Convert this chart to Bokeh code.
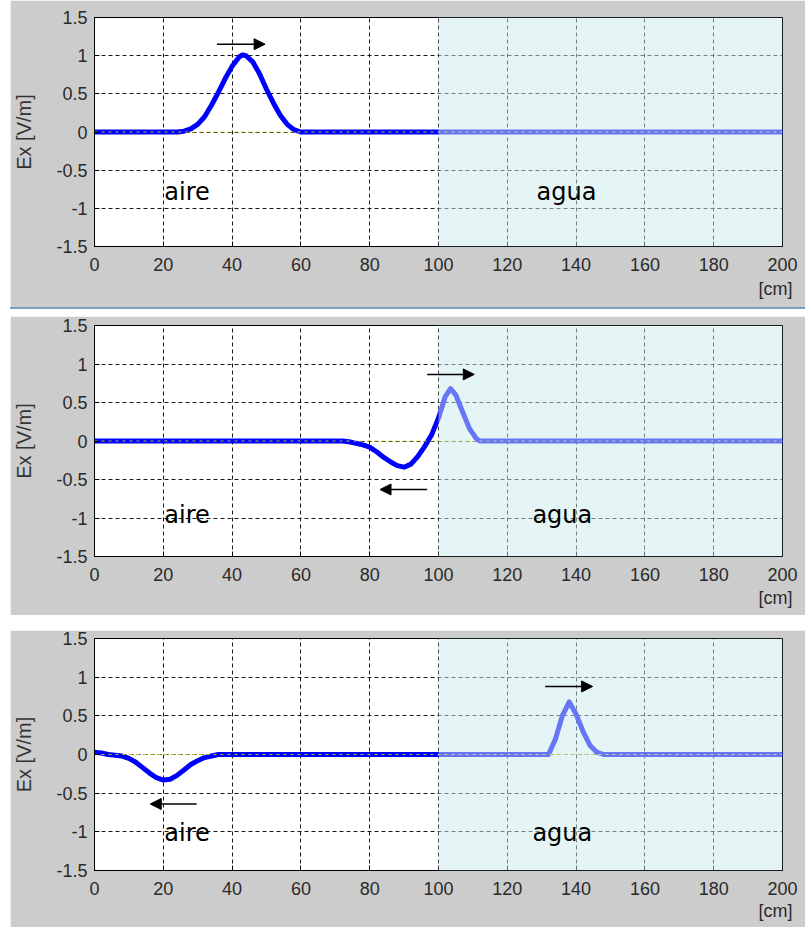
from bokeh.plotting import figure
from bokeh.models import (Range1d, FixedTicker, CustomJSTickFormatter, BoxAnnotation,
                          Arrow, NormalHead, Label, Title, Div, Spacer, ColumnDataSource)
from bokeh.layouts import column, row
from bokeh.embed import file_html
from bokeh.resources import INLINE

# ---------------- data ----------------
x_ticks = [0, 20, 40, 60, 80, 100, 120, 140, 160, 180, 200]
y_ticks = [-1.5, -1.0, -0.5, 0.0, 0.5, 1.0, 1.5]
x_label = "[cm]"
y_label = "Ex [V/m]"
media_names = ["aire", "agua"]
interface_x = 100

# panel 1: pulse travelling in air towards the interface
p1_x = [0, 24, 26, 28, 30, 32, 34, 36, 38, 40, 42, 43, 44, 46, 48, 50, 52, 54, 56, 58, 60, 100, 200]
p1_ex = [0, 0, 0.01, 0.04, 0.1, 0.2, 0.35, 0.52, 0.7, 0.86, 0.98, 1.01, 1.0, 0.92, 0.76, 0.56,
         0.38, 0.22, 0.1, 0.03, 0, 0, 0]

# panel 2: reflected (negative) and transmitted (positive) pulses at the interface
p2_x = [0, 72, 74, 76, 78, 80, 82, 84, 86, 88, 90, 92, 94, 96, 98, 100, 102, 103.5, 105, 107,
        109, 111, 112, 200]
p2_ex = [0, 0, -0.01, -0.03, -0.05, -0.08, -0.14, -0.21, -0.27, -0.32, -0.34, -0.3, -0.2,
         -0.07, 0.08, 0.3, 0.58, 0.68, 0.6, 0.38, 0.16, 0.03, 0, 0]

# panel 3: pulses separated
p3_x = [0, 2, 4, 6, 8, 10, 12, 14, 16, 18, 20, 22, 24, 26, 28, 30, 32, 34, 36, 132, 134, 136,
        138, 140, 142, 144, 146, 148, 200]
p3_ex = [0.03, 0.02, 0.0, -0.01, -0.02, -0.05, -0.1, -0.17, -0.24, -0.3, -0.33, -0.32, -0.27,
         -0.2, -0.13, -0.08, -0.04, -0.02, 0.0, 0, 0.2, 0.5, 0.68, 0.52, 0.3, 0.12, 0.03, 0, 0]

zero_x = [0, 200]
zero_y = [0, 0]

# arrows: (x_start, x_end, y)
p1_arrows = [(35.6, 49.6, 1.15)]
p2_arrows = [(96.7, 110.4, 0.865), (96.7, 83.0, -0.63)]
p3_arrows = [(131.0, 144.8, 0.88), (29.7, 16.2, -0.64)]

# media label positions: (x_aire, x_agua, y)
p1_media = (20.3, 128.5, -0.79)
p2_media = (20.3, 127.3, -0.96)
p3_media = (20.3, 127.3, -1.02)

GRAY = "#cccccc"
TICK_FONT = "Liberation Sans"
FIG_W = 795


def make_panel(xs, ys, arrows, media, height, top, bottom, left, right, cm_standoff):
    p = figure(width=FIG_W, height=height, output_backend="svg", toolbar_location=None,
               x_range=Range1d(0, 200), y_range=Range1d(-1.5, 1.5),
               min_border_top=top, min_border_bottom=bottom,
               min_border_left=left, min_border_right=right)
    p.border_fill_color = GRAY
    p.background_fill_color = "white"
    p.outline_line_color = "black"
    p.outline_line_width = 1

    p.xaxis.ticker = FixedTicker(ticks=x_ticks)
    p.yaxis.ticker = FixedTicker(ticks=y_ticks)
    p.xaxis.formatter = CustomJSTickFormatter(code="return tick.toString();")
    p.yaxis.formatter = CustomJSTickFormatter(code="return tick.toString();")
    for ax in (p.xaxis, p.yaxis):
        ax.axis_line_color = "black"
        ax.major_tick_line_color = "black"
        ax.major_tick_in = 5
        ax.major_tick_out = 0
        ax.minor_tick_line_color = None
        ax.major_label_text_font = TICK_FONT
        ax.major_label_text_font_size = "18px"
        ax.major_label_text_color = "#2a2a2a"
    p.xaxis.major_label_standoff = 11
    p.yaxis.major_label_standoff = 7
    p.yaxis.axis_label = y_label
    p.yaxis.axis_label_text_font = TICK_FONT
    p.yaxis.axis_label_text_font_size = "20px"
    p.yaxis.axis_label_text_font_style = "normal"
    p.yaxis.axis_label_text_color = "#333333"
    p.yaxis.axis_label_standoff = 18

    for g in (p.xgrid, p.ygrid):
        g.grid_line_color = "black"
        g.grid_line_alpha = 0.9
        g.grid_line_dash = "4 3"
        g.grid_line_width = 1
    p.xgrid.ticker = FixedTicker(ticks=x_ticks)
    p.ygrid.ticker = FixedTicker(ticks=y_ticks)

    src = ColumnDataSource(data=dict(x=xs, ex=ys))
    p.line("x", "ex", source=src, line_color="#0000ff", line_width=5,
           line_join="round", line_cap="round")
    p.line(zero_x, zero_y, line_color="#e8e800", line_width=1, line_dash="3 4", line_alpha=0.8)

    # water region (semi-transparent overlay)
    p.add_layout(BoxAnnotation(left=interface_x, fill_color="#cbebeb", fill_alpha=0.5,
                               line_color=None))

    for xs0, xe0, yy in arrows:
        p.add_layout(Arrow(x_start=xs0, x_end=xe0, y_start=yy, y_end=yy,
                           line_color="black", line_width=1.5,
                           end=NormalHead(size=11, fill_color="black", line_color="black")))

    xa, xw, ym = media
    for name, xx in zip(media_names, (xa, xw)):
        p.add_layout(Label(x=xx, y=ym, text=name, text_font="DejaVu Sans",
                           text_font_size="24px", text_color="black",
                           text_align="left", text_baseline="alphabetic"))

    p.add_layout(Title(text=x_label, align="right", offset=-10, vertical_align="middle",
                       standoff=cm_standoff, text_font=TICK_FONT, text_font_size="18px",
                       text_font_style="normal", text_color="#2a2a2a"), "below")
    return p


p1 = make_panel(p1_x, p1_ex, p1_arrows, p1_media, height=307, top=17, bottom=61,
                left=80, right=23, cm_standoff=8)
p2 = make_panel(p2_x, p2_ex, p2_arrows, p2_media, height=299, top=9, bottom=59,
                left=81, right=16, cm_standoff=6)
p3 = make_panel(p3_x, p3_ex, p3_arrows, p3_media, height=297, top=8, bottom=57,
                left=81, right=16, cm_standoff=4)

sep1 = Div(text="", width=FIG_W, height=9, margin=0,
           styles={"border-top": "2px solid #7f9cc2"})
sep2 = Div(text="", width=FIG_W, height=15, margin=0)

stack = column(p1, sep1, p2, sep2, p3, spacing=0)
layout = row(Spacer(width=10, height=929, margin=0), stack, spacing=0)

open("out.html", "w").write(file_html(layout, INLINE))
